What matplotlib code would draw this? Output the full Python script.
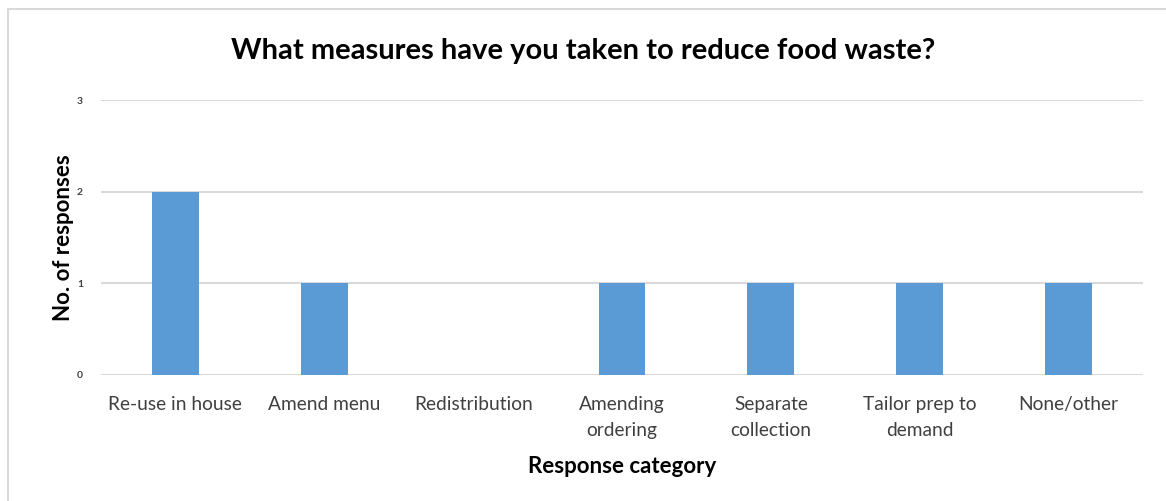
import numpy as np
import matplotlib.pyplot as plt
from matplotlib.patches import Rectangle

plt.rcParams['font.family'] = ['Lato', 'DejaVu Sans']

categories = ["Re-use in house", "Amend menu", "Redistribution", "Amending\nordering",
              "Separate\ncollection", "Tailor prep to\ndemand", "None/other"]
responses = [2, 1, 0, 1, 1, 1, 1]
yticks = [0, 1, 2, 3]

fig = plt.figure(figsize=(11.66, 5.01), dpi=100)
# chart frame, open at the right and bottom
fig.patches.append(Rectangle((8/1166, -0.1), 1.2, 1 - 9/501 + 0.1, transform=fig.transFigure,
                             fill=False, edgecolor='#d9d9d9', lw=1.5))

ax = fig.add_axes([101/1166, 1 - 375/501, 1042/1166, 275/501])
x = np.arange(len(categories))
ax.bar(x, responses, width=0.315, color='#5b9bd5', zorder=3)

ax.set_xlim(-0.5, len(categories) - 0.5)
ax.set_ylim(0, 3)
ax.set_yticks(yticks)
ax.set_yticklabels([str(t) for t in yticks], fontsize=7.5, fontweight='bold', color='#404040')
ax.set_xticks(x)
ax.set_xticklabels(categories, fontsize=13.8, color='#404040', linespacing=1.65, va='top')
ax.tick_params(axis='both', length=0)
ax.tick_params(axis='y', pad=13)
ax.tick_params(axis='x', pad=15)
ax.grid(axis='y', color='#d9d9d9', lw=1.5, zorder=0)
for s in ax.spines.values():
    s.set_visible(False)

ax.set_ylabel("No. of responses", fontsize=16, fontweight='bold', labelpad=2)
ax.set_xlabel("Response category", fontsize=16, fontweight='bold', labelpad=12)
fig.text(0.5, 1 - 51/501, "What measures have you taken to reduce food waste?",
         ha='center', va='center', fontsize=21, fontweight='bold')

fig.savefig("out.png", dpi=100, facecolor='white')
